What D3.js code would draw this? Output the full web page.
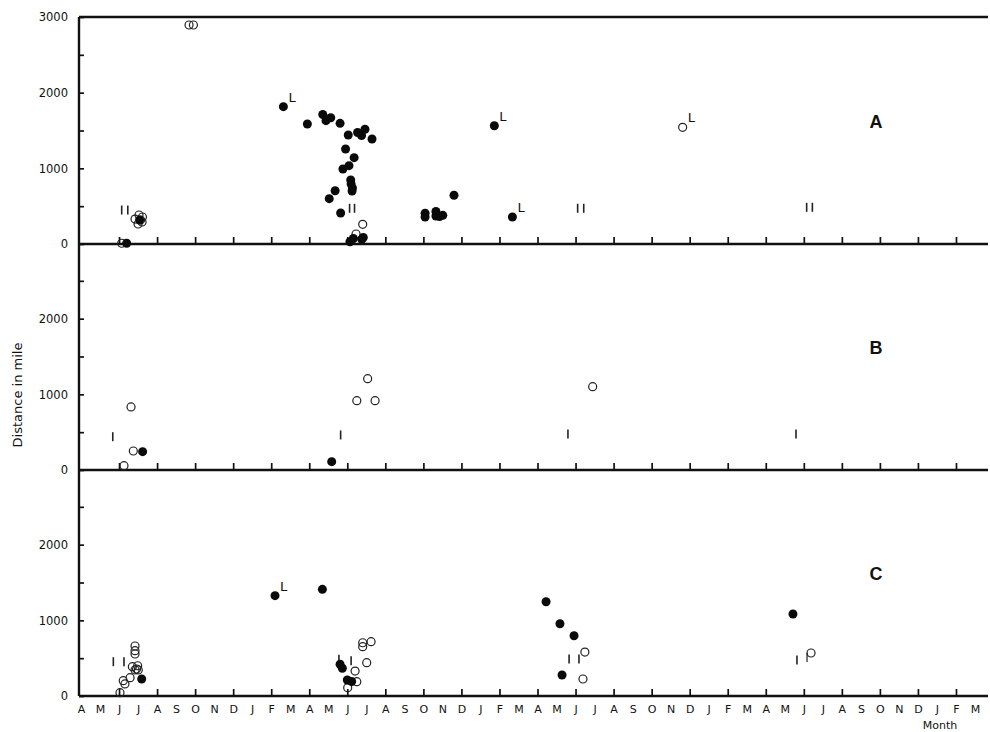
<!DOCTYPE html>
<html>
<head>
<meta charset="utf-8">
<script src="https://cdn.jsdelivr.net/npm/d3@7"></script>
<style>
  body { margin: 0; background: #fff; }
  text { font-family: "DejaVu Sans", sans-serif; fill: #111; }
</style>
</head>
<body>
<div id="chart"></div>
<script>
// month letters, April of year 1 to March of year 5
var monthLetters = ["A","M","J","J","A","S","O","N","D","J","F","M"];
var months = monthLetters.concat(monthLetters, monthLetters, monthLetters);
var yTicks = [0, 500, 1000, 1500, 2000, 2500, 3000];
var xTicks = d3.range(2, 47, 2);

// [month index, miles, tag]  (month 0 = April year 1)
var aFilled = [[10.64,1815,"L"],[11.90,1586],[12.71,1711],[12.88,1630],[13.13,1669],[13.62,1595],
  [14.05,1441],[14.54,1474],[14.75,1434],[14.93,1516],[15.30,1388],[13.91,1256],[14.36,1141],
  [14.09,1035],[13.77,991],[14.18,846],[14.20,793],[14.27,740],[14.25,700],[13.36,704],[13.05,599],
  [13.65,410],[14.14,30],[14.32,73],[14.76,62],[14.84,86],[2.40,10],[3.08,317],[18.09,406],
  [18.09,357],[18.66,430],[18.66,370],[18.85,363],[19.02,379],[19.61,644],[21.73,1563,"L"],[22.68,357,"L"]];
var aOpen = [[5.68,2894],[5.91,2894],[2.84,330],[3.05,383],[3.23,357],[3.21,291],[3.00,264],
  [3.13,317],[2.14,10],[14.46,132],[14.81,260],[31.63,1542,"L"]];
var aBars = [[2.14,449],[2.46,449],[14.12,472],[14.38,472],[26.11,472],[26.43,472],[38.15,485],[38.45,485]];

var bFilled = [[3.24,242],[13.18,110]];
var bOpen = [[2.63,833],[2.75,251],[2.26,57],[14.50,916],[15.07,1207],[15.46,916],[26.90,1101]];
var bBars = [[1.67,440],[13.65,463],[25.60,476],[37.59,476]];

var cFilled = [[3.19,225],[10.20,1326,"L"],[12.69,1410],[13.62,419],[13.74,366],[14.00,211],[14.23,192],
  [24.45,1246],[25.18,955],[25.92,797],[25.29,278],[37.43,1084]];
var cOpen = [[2.05,44],[2.22,202],[2.31,159],[2.58,242],[2.70,387],[2.84,344],[2.98,400],[2.92,357],
  [2.84,661],[2.84,599],[2.84,555],[3.01,344],[14.02,110],[14.41,330],[14.50,189],[14.81,704],
  [14.81,652],[15.25,718],[15.02,440],[26.49,581],[26.39,225],[38.38,568,"P"]];
var cBars = [[1.70,453],[2.26,453],[13.56,485],[14.20,467],[25.66,489],[26.18,489],[37.64,476]];

var panels = [
  {name: "A", filled: aFilled, open: aOpen, bars: aBars},
  {name: "B", filled: bFilled, open: bOpen, bars: bBars},
  {name: "C", filled: cFilled, open: cOpen, bars: cBars}
];

var width = 990, height = 732;
var panelH = 227, firstBase = 244, step = 226;
var left = 79, right = 988;

var svg = d3.select("#chart").append("svg")
  .attr("width", width).attr("height", height);

var x = d3.scaleLinear().domain([0, 47]).range([81, 975]);

panels.forEach(function(p, i) {
  var base = firstBase + i * step;
  var y = d3.scaleLinear().domain([0, 3000]).range([base, base - panelH]);
  var g = svg.append("g");

  // y axis ticks and labels
  var ya = d3.axisLeft(y)
    .tickValues(i === 0 ? yTicks : yTicks.slice(0, -1))
    .tickSizeInner(-5).tickSizeOuter(0).tickPadding(11)
    .tickFormat(function(d) { return d % 1000 === 0 ? d : ""; });
  var yg = g.append("g").attr("transform", "translate(" + left + ",0)").call(ya);
  yg.select(".domain").remove();
  yg.selectAll("line").attr("stroke", "#111").attr("stroke-width", 1.7);
  yg.selectAll("text").style("font-size", "11.5px").attr("fill", "#111");

  // x ticks pointing up on each panel baseline
  var xa = d3.axisBottom(x).tickValues(xTicks).tickSizeInner(-7).tickSizeOuter(0).tickFormat("");
  var xg = g.append("g").attr("transform", "translate(0," + base + ")").call(xa);
  xg.select(".domain").remove();
  xg.selectAll("line").attr("stroke", "#111").attr("stroke-width", 1.7);

  // baseline
  g.append("line").attr("x1", left).attr("x2", right).attr("y1", base).attr("y2", base)
    .attr("stroke", "#111").attr("stroke-width", 2.4);
  if (i === 0) {
    g.append("line").attr("x1", left).attr("x2", right).attr("y1", y(3000)).attr("y2", y(3000))
      .attr("stroke", "#111").attr("stroke-width", 2.4);
  }

  // I / II markers
  g.selectAll(".bar").data(p.bars).enter().append("line")
    .attr("x1", function(d) { return x(d[0]); }).attr("x2", function(d) { return x(d[0]); })
    .attr("y1", function(d) { return y(d[1]) - 4.5; }).attr("y2", function(d) { return y(d[1]) + 4.5; })
    .attr("stroke", "#222").attr("stroke-width", 1.6);

  // open circles
  g.selectAll(".open").data(p.open).enter().append("circle")
    .attr("cx", function(d) { return x(d[0]); }).attr("cy", function(d) { return y(d[1]); })
    .attr("r", 4).attr("fill", "none").attr("stroke", "#222").attr("stroke-width", 1.2);
  g.selectAll(".stem").data(p.open.filter(function(d) { return d[2] === "P"; })).enter().append("line")
    .attr("x1", function(d) { return x(d[0]) - 4; }).attr("x2", function(d) { return x(d[0]) - 4; })
    .attr("y1", function(d) { return y(d[1]); }).attr("y2", function(d) { return y(d[1]) + 9; })
    .attr("stroke", "#222").attr("stroke-width", 1.2);

  // filled circles
  g.selectAll(".filled").data(p.filled).enter().append("circle")
    .attr("cx", function(d) { return x(d[0]); }).attr("cy", function(d) { return y(d[1]); })
    .attr("r", 4.5).attr("fill", "#0a0a0a");

  // L labels
  var tagged = p.filled.concat(p.open).filter(function(d) { return d[2] === "L"; });
  g.selectAll(".lab").data(tagged).enter().append("text")
    .attr("x", function(d) { return x(d[0]) + 5; }).attr("y", function(d) { return y(d[1]) - 5; })
    .style("font-size", "13px").text("L");

  // panel letter
  g.append("text").attr("x", x(41.8)).attr("y", y(1620)).attr("dy", "0.36em")
    .attr("text-anchor", "middle")
    .style("font-family", "'Liberation Sans', Arial, sans-serif")
    .style("font-weight", "bold").style("font-size", "18px").text(p.name);

  if (i === panels.length - 1) {
    var la = d3.axisBottom(x).tickValues(d3.range(0, 48)).tickSize(0).tickPadding(9)
      .tickFormat(function(d) { return months[d]; });
    var lg = g.append("g").attr("transform", "translate(0," + base + ")").call(la);
    lg.select(".domain").remove();
    lg.selectAll("text").style("font-size", "11px").attr("fill", "#111");
    g.append("text").attr("x", 940).attr("y", base + 32.5).attr("text-anchor", "middle")
      .style("font-size", "11px").text("Month");
  }
});

// vertical axis line
svg.append("line").attr("x1", left).attr("x2", left)
  .attr("y1", firstBase - panelH).attr("y2", firstBase + 2 * step)
  .attr("stroke", "#111").attr("stroke-width", 2.4);

svg.append("text")
  .attr("transform", "translate(22,395) rotate(-90)")
  .attr("text-anchor", "middle").style("font-size", "13px")
  .text("Distance in mile");
</script>
</body>
</html>
